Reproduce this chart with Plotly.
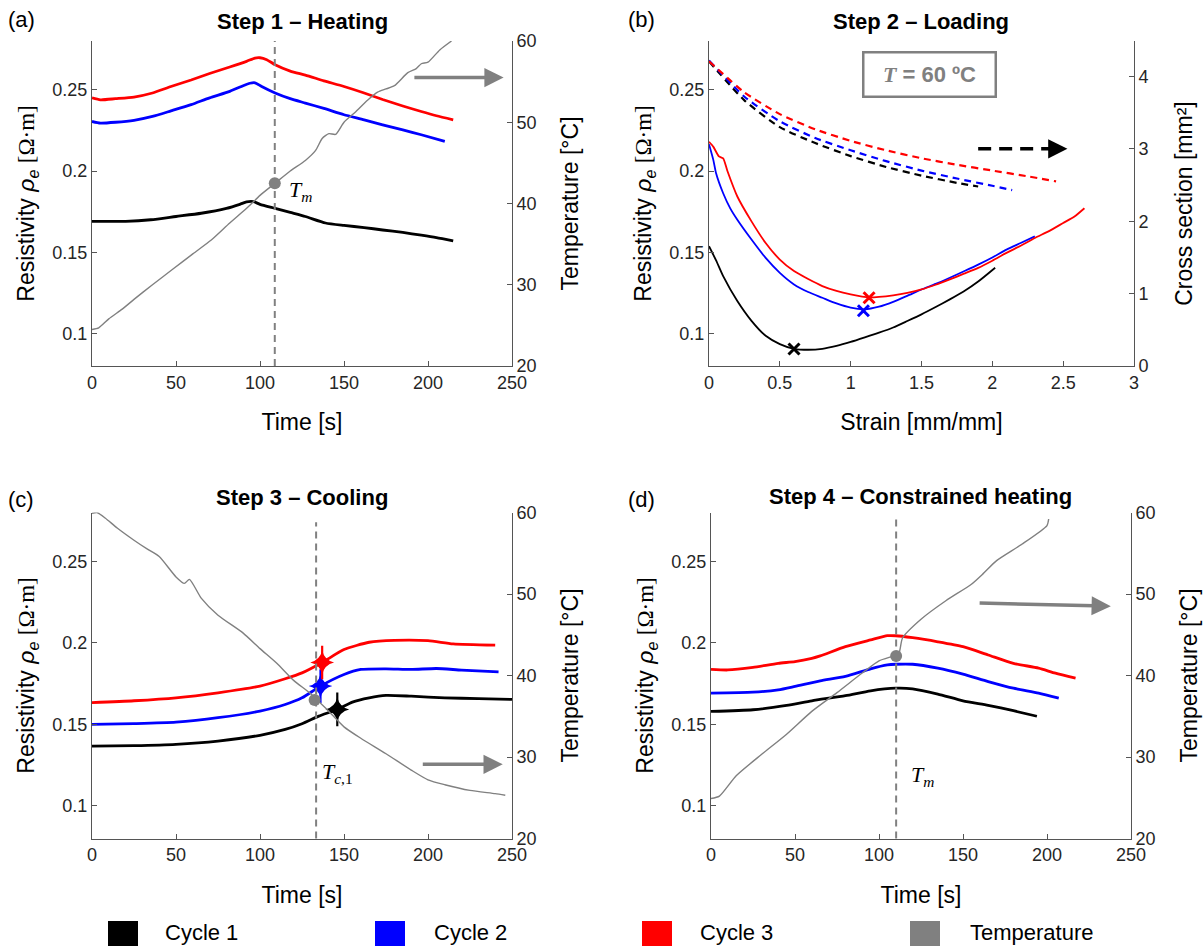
import plotly.graph_objects as go

# ---------------- data ----------------
# Panel (a) Step 1 - Heating
a_time_c1 = [0, 10, 20, 35, 50, 65, 80, 88, 92, 96, 100, 109, 118, 127, 139, 150, 162, 173, 185, 196, 205, 215]
a_c1 = [0.169, 0.169, 0.169, 0.170, 0.172, 0.174, 0.177, 0.1795, 0.181, 0.1812, 0.1795, 0.177, 0.1745, 0.172,
        0.168, 0.1665, 0.1652, 0.1637, 0.1622, 0.1605, 0.159, 0.157]
a_time_c2 = [0, 5, 14, 25, 36, 47, 59, 70, 82, 90, 94, 97, 101, 109, 118, 127, 138, 150, 162, 173, 185, 196, 210]
a_c2 = [0.2305, 0.2295, 0.2300, 0.2312, 0.2336, 0.237, 0.2408, 0.245, 0.249, 0.2525, 0.2540, 0.2543, 0.2520,
        0.248, 0.2445, 0.2418, 0.2385, 0.2346, 0.2315, 0.2284, 0.2253, 0.2223, 0.2182]
a_time_c3 = [0, 5, 14, 25, 36, 47, 59, 70, 82, 92, 97, 100, 104, 109, 118, 127, 138, 150, 162, 173, 185, 196,
             205, 215]
a_c3 = [0.245, 0.2438, 0.2445, 0.2455, 0.248, 0.252, 0.256, 0.260, 0.264, 0.2675, 0.2695, 0.2697, 0.2685,
        0.2654, 0.2615, 0.259, 0.2555, 0.252, 0.248, 0.244, 0.240, 0.2366, 0.234, 0.2315]
a_time_T = [0, 4, 10, 18, 25, 36, 48, 60, 71, 82, 93, 100, 109, 118, 127, 133, 137, 141, 145, 150, 157, 164,
            170, 175, 180, 188, 193, 196, 200, 207, 214]
a_T = [24.5, 24.7, 25.8, 27.0, 28.2, 30.0, 31.9, 33.8, 35.5, 37.6, 39.6, 41.0, 42.5, 44.0, 45.3, 46.5, 48.0,
       48.6, 48.5, 50.0, 51.3, 52.7, 53.7, 54.1, 54.5, 56.1, 56.6, 57.2, 57.4, 58.9, 60.0]
a_Tm_time = 108.8
a_Tm_temp = 42.5

# Panel (b) Step 2 - Loading
b_strain_c1 = [0, 0.05, 0.1, 0.2, 0.3, 0.4, 0.5, 0.6, 0.7, 0.8, 0.9, 1.0, 1.1, 1.2, 1.3, 1.4, 1.5, 1.6, 1.7,
               1.8, 1.9, 2.02]
b_c1 = [0.1537, 0.145, 0.1353, 0.120, 0.1078, 0.0986, 0.0935, 0.0906, 0.0900, 0.0906, 0.0924, 0.0948,
        0.0976, 0.1005, 0.1037, 0.1077, 0.1118, 0.1163, 0.121, 0.126, 0.132, 0.1405]
b_strain_c2 = [0, 0.03, 0.05, 0.1, 0.15, 0.2, 0.3, 0.4, 0.5, 0.6, 0.7, 0.8, 0.9, 1.0, 1.1, 1.2, 1.3, 1.4,
               1.5, 1.6, 1.7, 1.8, 1.9, 2.0, 2.1, 2.2, 2.3]
b_c2 = [0.2165, 0.207, 0.1986, 0.1863, 0.177, 0.170, 0.1578, 0.1465, 0.1373, 0.1302, 0.1255, 0.122, 0.1185,
        0.1159, 0.1149, 0.1165, 0.1195, 0.1232, 0.1271, 0.1305, 0.1343, 0.1383, 0.1424, 0.1468, 0.1516,
        0.1557, 0.1598]
b_strain_c3 = [0, 0.03, 0.07, 0.1, 0.13, 0.2, 0.3, 0.4, 0.5, 0.6, 0.7, 0.8, 0.9, 1.0, 1.13, 1.2, 1.3, 1.4,
               1.5, 1.6, 1.7, 1.8, 1.9, 2.0, 2.1, 2.2, 2.3, 2.4, 2.5, 2.58, 2.65]
b_c3 = [0.218, 0.215, 0.209, 0.2078, 0.200, 0.1843, 0.169, 0.1557, 0.1455, 0.1384, 0.1335, 0.1292, 0.1262,
        0.1241, 0.1222, 0.1225, 0.1235, 0.125, 0.1271, 0.130, 0.1333, 0.1368, 0.1404, 0.1448, 0.1496,
        0.154, 0.1588, 0.163, 0.168, 0.172, 0.1771]
b_strain_A1 = [0, 0.25, 0.5, 0.75, 1.0, 1.25, 1.5, 1.75, 1.9]
b_A1 = [4.21, 3.67, 3.30, 3.08, 2.90, 2.75, 2.63, 2.53, 2.48]
b_strain_A2 = [0, 0.25, 0.5, 0.75, 1.0, 1.25, 1.5, 1.75, 2.0, 2.14]
b_A2 = [4.22, 3.72, 3.38, 3.15, 2.98, 2.83, 2.70, 2.59, 2.49, 2.43]
b_strain_A3 = [0, 0.25, 0.5, 0.75, 1.0, 1.25, 1.5, 1.75, 2.0, 2.25, 2.45]
b_A3 = [4.21, 3.78, 3.48, 3.27, 3.11, 2.98, 2.87, 2.78, 2.70, 2.62, 2.55]
b_min_strain = [0.6, 1.09, 1.13]
b_min_rho = [0.0905, 0.114, 0.122]

# Panel (c) Step 3 - Cooling
c_time_c1 = [0, 25, 50, 75, 100, 115, 125, 135, 146, 155, 165, 175, 190, 210, 230, 250]
c_c1 = [0.1367, 0.1370, 0.1378, 0.1398, 0.1433, 0.1469, 0.1504, 0.1551, 0.1592, 0.1637, 0.1663, 0.1678,
        0.1673, 0.1663, 0.1658, 0.1653]
c_time_c2 = [0, 25, 50, 75, 100, 115, 125, 136, 150, 160, 175, 190, 205, 220, 242]
c_c2 = [0.150, 0.1505, 0.1514, 0.1541, 0.1582, 0.1622, 0.1663, 0.1735, 0.1806, 0.1837, 0.1841, 0.1837,
        0.1843, 0.1833, 0.1822]
c_time_c3 = [0, 25, 50, 75, 100, 115, 125, 137, 150, 165, 180, 200, 215, 240]
c_c3 = [0.1633, 0.1645, 0.1663, 0.1694, 0.1735, 0.178, 0.1816, 0.188, 0.1959, 0.2004, 0.2016, 0.2014,
        0.1994, 0.1986]
c_time_T = [0, 3, 8, 15, 25, 33, 40, 50, 55, 58, 65, 75, 90, 100, 110, 120, 130, 140, 150, 160, 175, 190,
            200, 210, 225, 240, 246]
c_T = [59.9, 60.0, 59.3, 58.1, 56.6, 55.5, 54.6, 52.1, 51.3, 51.8, 49.5, 47.4, 45.2, 43.3, 41.5, 39.4, 37.8,
       35.8, 33.7, 32.3, 30.4, 28.4, 27.2, 26.6, 25.9, 25.5, 25.3]
c_star_time = [146, 136, 137]
c_star_rho = [0.1592, 0.1735, 0.188]
c_Tc_time = 133.4
c_Tc_temp = 37.0

# Panel (d) Step 4 - Constrained heating
d_time_c1 = [0, 25, 45, 60, 80, 95, 110, 120, 135, 150, 165, 180, 194]
d_c1 = [0.158, 0.159, 0.1617, 0.1645, 0.1676, 0.1706, 0.1722, 0.1718, 0.1686, 0.1645, 0.1617, 0.1584, 0.155]
d_time_c2 = [0, 25, 40, 50, 65, 80, 95, 105, 110, 120, 135, 150, 165, 180, 195, 207]
d_c2 = [0.1692, 0.1698, 0.1712, 0.1733, 0.1767, 0.1794, 0.1841, 0.1865, 0.1869, 0.1869, 0.1845, 0.1808,
        0.1763, 0.1722, 0.1692, 0.1661]
d_time_c3 = [0, 10, 25, 40, 50, 60, 65, 80, 95, 105, 110, 120, 135, 150, 165, 180, 195, 205, 217]
d_c3 = [0.1838, 0.1834, 0.185, 0.1875, 0.1885, 0.1905, 0.192, 0.1977, 0.2018, 0.2044, 0.2044, 0.2032,
        0.2007, 0.1977, 0.1926, 0.1875, 0.1845, 0.1814, 0.1784]
d_time_T = [0, 5, 15, 30, 45, 60, 75, 90, 100, 110, 112, 114, 125, 140, 155, 162, 170, 185, 200, 201]
d_T = [24.9, 25.2, 27.7, 30.3, 32.8, 35.6, 37.9, 40.3, 41.8, 42.5, 42.8, 44.6, 46.9, 49.2, 51.2, 52.5, 54.1,
       56.1, 58.4, 59.2]
d_Tm_time = 110.2
d_Tm_temp = 42.4

legend_labels = ["Cycle 1", "Cycle 2", "Cycle 3", "Temperature"]
cycle_colors = ["#000000", "#0000ff", "#ff0000"]
temp_color = "#808080"

# ---------------- figure ----------------
W, H = 1203, 946
FONT = "Liberation Sans, Arial, sans-serif"
SERIF = "Liberation Serif, Times New Roman, serif"


def px_x(p):
    return p / W


def px_y(p):
    return 1 - p / H


fig = go.Figure()


def line(x, y, color, xa, ya, width=2.8, dash=None):
    fig.add_trace(go.Scatter(x=x, y=y, mode="lines", xaxis=xa, yaxis=ya,
                             line=dict(color=color, width=width, dash=dash, shape="spline", smoothing=0.6),
                             showlegend=False, hoverinfo="skip"))


# (a)
line(a_time_c1, a_c1, cycle_colors[0], "x", "y")
line(a_time_c2, a_c2, cycle_colors[1], "x", "y")
line(a_time_c3, a_c3, cycle_colors[2], "x", "y")
line(a_time_T, a_T, temp_color, "x", "y2", width=1.4)
fig.add_trace(go.Scatter(x=[a_Tm_time], y=[a_Tm_temp], mode="markers", xaxis="x", yaxis="y2",
                         marker=dict(color=temp_color, size=12), showlegend=False))

# (b)
line(b_strain_c1, b_c1, cycle_colors[0], "x2", "y3", width=1.8)
line(b_strain_c2, b_c2, cycle_colors[1], "x2", "y3", width=1.8)
line(b_strain_c3, b_c3, cycle_colors[2], "x2", "y3", width=1.8)
line(b_strain_A1, b_A1, cycle_colors[0], "x2", "y4", width=2.2, dash="7px,5px")
line(b_strain_A2, b_A2, cycle_colors[1], "x2", "y4", width=2.2, dash="7px,5px")
line(b_strain_A3, b_A3, cycle_colors[2], "x2", "y4", width=2.2, dash="7px,5px")
for i in range(3):
    fig.add_trace(go.Scatter(x=[b_min_strain[i]], y=[b_min_rho[i]], mode="markers", xaxis="x2", yaxis="y3",
                             marker=dict(symbol="x-thin", size=11, line=dict(color=cycle_colors[i], width=3)),
                             showlegend=False))

# (c)
line(c_time_c1, c_c1, cycle_colors[0], "x3", "y5")
line(c_time_c2, c_c2, cycle_colors[1], "x3", "y5")
line(c_time_c3, c_c3, cycle_colors[2], "x3", "y5")
line(c_time_T, c_T, temp_color, "x3", "y6", width=1.4)
fig.add_trace(go.Scatter(x=[c_Tc_time - 0.9], y=[c_Tc_temp], mode="markers", xaxis="x3", yaxis="y6",
                         marker=dict(color=temp_color, size=12), showlegend=False))
for i in range(3):
    fig.add_trace(go.Scatter(x=[c_star_time[i]], y=[c_star_rho[i]], mode="markers", xaxis="x3", yaxis="y5",
                             marker=dict(symbol="star-diamond", size=17, color=cycle_colors[i]),
                             showlegend=False))
    fig.add_trace(go.Scatter(x=[c_star_time[i]], y=[c_star_rho[i]], mode="markers", xaxis="x3", yaxis="y5",
                             marker=dict(symbol="line-ns", size=24,
                                         line=dict(color=cycle_colors[i], width=2.2)),
                             showlegend=False))

# (d)
line(d_time_c1, d_c1, cycle_colors[0], "x4", "y7")
line(d_time_c2, d_c2, cycle_colors[1], "x4", "y7")
line(d_time_c3, d_c3, cycle_colors[2], "x4", "y7")
line(d_time_T, d_T, temp_color, "x4", "y8", width=1.4)
fig.add_trace(go.Scatter(x=[d_Tm_time], y=[d_Tm_temp], mode="markers", xaxis="x4", yaxis="y8",
                         marker=dict(color=temp_color, size=12), showlegend=False))

# ---------------- axes ----------------
AX = "#555555"
base = dict(showline=True, linecolor=AX, linewidth=1, ticks="inside", ticklen=5, tickcolor=AX,
            showgrid=False, zeroline=False, tickfont=dict(family=FONT, size=18, color="#262626"),
            automargin=False)

rho_title = ('Resistivity <i>ρ<sub>e</sub></i> '
             '<span style="font-family:Liberation Serif">[Ω·m]</span>')

left_dom_a = [px_x(92), px_x(512)]
right_dom_b = [px_x(709), px_x(1134)]
right_dom_d = [px_x(711), px_x(1131)]
top_dom = [px_y(366), px_y(41)]
bot_dom = [px_y(838.5), px_y(512.5)]

time_ticks = [0, 50, 100, 150, 200, 250]
rho_ticks = [0.1, 0.15, 0.2, 0.25]
rho_ticktext = ["0.1", "0.15", "0.2", "0.25"]
temp_ticks = [20, 30, 40, 50, 60]
strain_ticks = [0, 0.5, 1, 1.5, 2, 2.5, 3]
strain_ticktext = ["0", "0.5", "1", "1.5", "2", "2.5", "3"]
area_ticks = [0, 1, 2, 3, 4]


def xax(domain, anchor, rng, tv, tt, title):
    d = dict(base)
    d.update(domain=domain, anchor=anchor, range=rng, tickvals=tv, ticktext=tt,
             title=dict(text=title, font=dict(family=FONT, size=23, color="#000"), standoff=22))
    return d


def yleft(domain, anchor):
    d = dict(base)
    d.update(domain=domain, anchor=anchor, range=[0.08, 0.28], tickvals=rho_ticks, ticktext=rho_ticktext,
             title=dict(text=rho_title, font=dict(family=FONT, size=23, color="#000"), standoff=11))
    return d


def yright(overlay, anchor, rng, tv, title, standoff=26):
    d = dict(base)
    d.update(overlaying=overlay, anchor=anchor, side="right", range=rng, tickvals=tv,
             title=dict(text=title, font=dict(family=FONT, size=23, color="#000"), standoff=standoff))
    return d


fig.update_layout(
    xaxis=xax(left_dom_a, "y", [0, 250], time_ticks, [str(t) for t in time_ticks], "Time [s]"),
    yaxis=yleft(top_dom, "x"),
    yaxis2=yright("y", "x", [20, 60], temp_ticks, "Temperature [°C]"),
    xaxis2=xax(right_dom_b, "y3", [0, 3], strain_ticks, strain_ticktext, "Strain [mm/mm]"),
    yaxis3=yleft(top_dom, "x2"),
    yaxis4=yright("y3", "x2", [0, 4.49], area_ticks, "Cross section [mm²]", standoff=28),
    xaxis3=xax(left_dom_a, "y5", [0, 250], time_ticks, [str(t) for t in time_ticks], "Time [s]"),
    yaxis5=yleft(bot_dom, "x3"),
    yaxis6=yright("y5", "x3", [20, 60], temp_ticks, "Temperature [°C]"),
    xaxis4=xax(right_dom_d, "y7", [0, 250], time_ticks, [str(t) for t in time_ticks], "Time [s]"),
    yaxis7=yleft(bot_dom, "x4"),
    yaxis8=yright("y7", "x4", [20, 60], temp_ticks, "Temperature [°C]"),
)

# ---------------- shapes & annotations ----------------
shapes = []
annotations = []

# vertical dashed lines
for xv, xr, yr, top in [(a_Tm_time, "x", "y domain", 1.0), (c_Tc_time, "x3", "y5 domain", 0.97),
                        (d_Tm_time, "x4", "y7 domain", 0.98)]:
    shapes.append(dict(type="line", xref=xr, yref=yr, x0=xv, x1=xv, y0=0, y1=top,
                       line=dict(color=temp_color, width=2, dash="7px,5px")))

# grey arrows
for (x0, y0, x1, y1, xr, yr) in [(191, 55.5, 245, 55.5, "x", "y2"),
                                 (196, 29.1, 244.5, 29.1, "x3", "y6"),
                                 (159, 48.9, 238, 48.5, "x4", "y8")]:
    annotations.append(dict(x=x1, y=y1, ax=x0, ay=y0, xref=xr, yref=yr, axref=xr, ayref=yr, text="",
                            showarrow=True, arrowhead=2, arrowsize=1.1, arrowwidth=3.5,
                            arrowcolor=temp_color, standoff=0))

# black dashed arrow (b)
shapes.append(dict(type="line", xref="x2", yref="y4", x0=1.90, x1=2.42, y0=3.0, y1=3.0,
                   line=dict(color="black", width=3.5, dash="13px,8px")))
annotations.append(dict(x=2.53, y=3.0, ax=2.40, ay=3.0, xref="x2", yref="y4", axref="x2", ayref="y4",
                        text="", showarrow=True, arrowhead=2, arrowsize=1.1, arrowwidth=3.5,
                        arrowcolor="black", standoff=0))

# T = 60 ºC box
annotations.append(dict(x=1.555, y=0.2595, xref="x2", yref="y3", showarrow=False,
                        text='<span style="font-family:Liberation Serif"><i><b>T</b></i></span><b> = 60 ºC</b>',
                        font=dict(family=FONT, size=22, color=temp_color),
                        bordercolor=temp_color, borderwidth=2.5, borderpad=2, width=126, height=38))

# T labels
annotations.append(dict(x=116, y=41.5, xref="x", yref="y2", xanchor="left", showarrow=False,
                        text="<i>T<sub>m</sub></i>", font=dict(family=SERIF, size=22, color="black")))
annotations.append(dict(x=135.5, y=28.0, xref="x3", yref="y6", xanchor="left", showarrow=False,
                        text="<i>T</i><sub><i>c</i>,1</sub>", font=dict(family=SERIF, size=22, color="black")))
annotations.append(dict(x=118, y=27.7, xref="x4", yref="y8", xanchor="left", showarrow=False,
                        text="<i>T<sub>m</sub></i>", font=dict(family=SERIF, size=22, color="black")))

# panel titles and labels
titles = [("Step 1 – Heating", 302, 21), ("Step 2 – Loading", 921, 21),
          ("Step 3 – Cooling", 302, 498), ("Step 4 – Constrained heating", 921, 497)]
for t, cx, cy in titles:
    annotations.append(dict(x=px_x(cx), y=px_y(cy), xref="paper", yref="paper", showarrow=False,
                            text=f"<b>{t}</b>", font=dict(family=FONT, size=22, color="black"),
                            xanchor="center", yanchor="middle"))
labels = [("(a)", 6, 19), ("(b)", 626, 19), ("(c)", 6, 499), ("(d)", 626, 499)]
for t, lx, ly in labels:
    annotations.append(dict(x=px_x(lx), y=px_y(ly), xref="paper", yref="paper", showarrow=False,
                            text=t, font=dict(family=FONT, size=22, color="black"),
                            xanchor="left", yanchor="middle"))

# legend (squares + text)
legend_colors = cycle_colors + [temp_color]
sq_x = [108, 375, 642, 910]
txt_x = [163, 432, 698, 968]
for i in range(4):
    shapes.append(dict(type="rect", xref="paper", yref="paper", x0=px_x(sq_x[i]), x1=px_x(sq_x[i] + 30),
                       y0=px_y(952), y1=px_y(921), fillcolor=legend_colors[i], line=dict(width=0)))
    annotations.append(dict(x=px_x(txt_x[i]), y=px_y(932), xref="paper", yref="paper", showarrow=False,
                            text=legend_labels[i], font=dict(family=FONT, size=22, color="black"),
                            xanchor="left", yanchor="middle"))

fig.update_layout(shapes=shapes, annotations=annotations, width=W, height=H,
                  margin=dict(l=0, r=0, t=0, b=0), plot_bgcolor="white", paper_bgcolor="white",
                  showlegend=False, font=dict(family=FONT))

fig.write_html("out.html", config={"displayModeBar": False},
               post_script="document.body.style.margin='0';document.body.style.overflow='hidden';")
